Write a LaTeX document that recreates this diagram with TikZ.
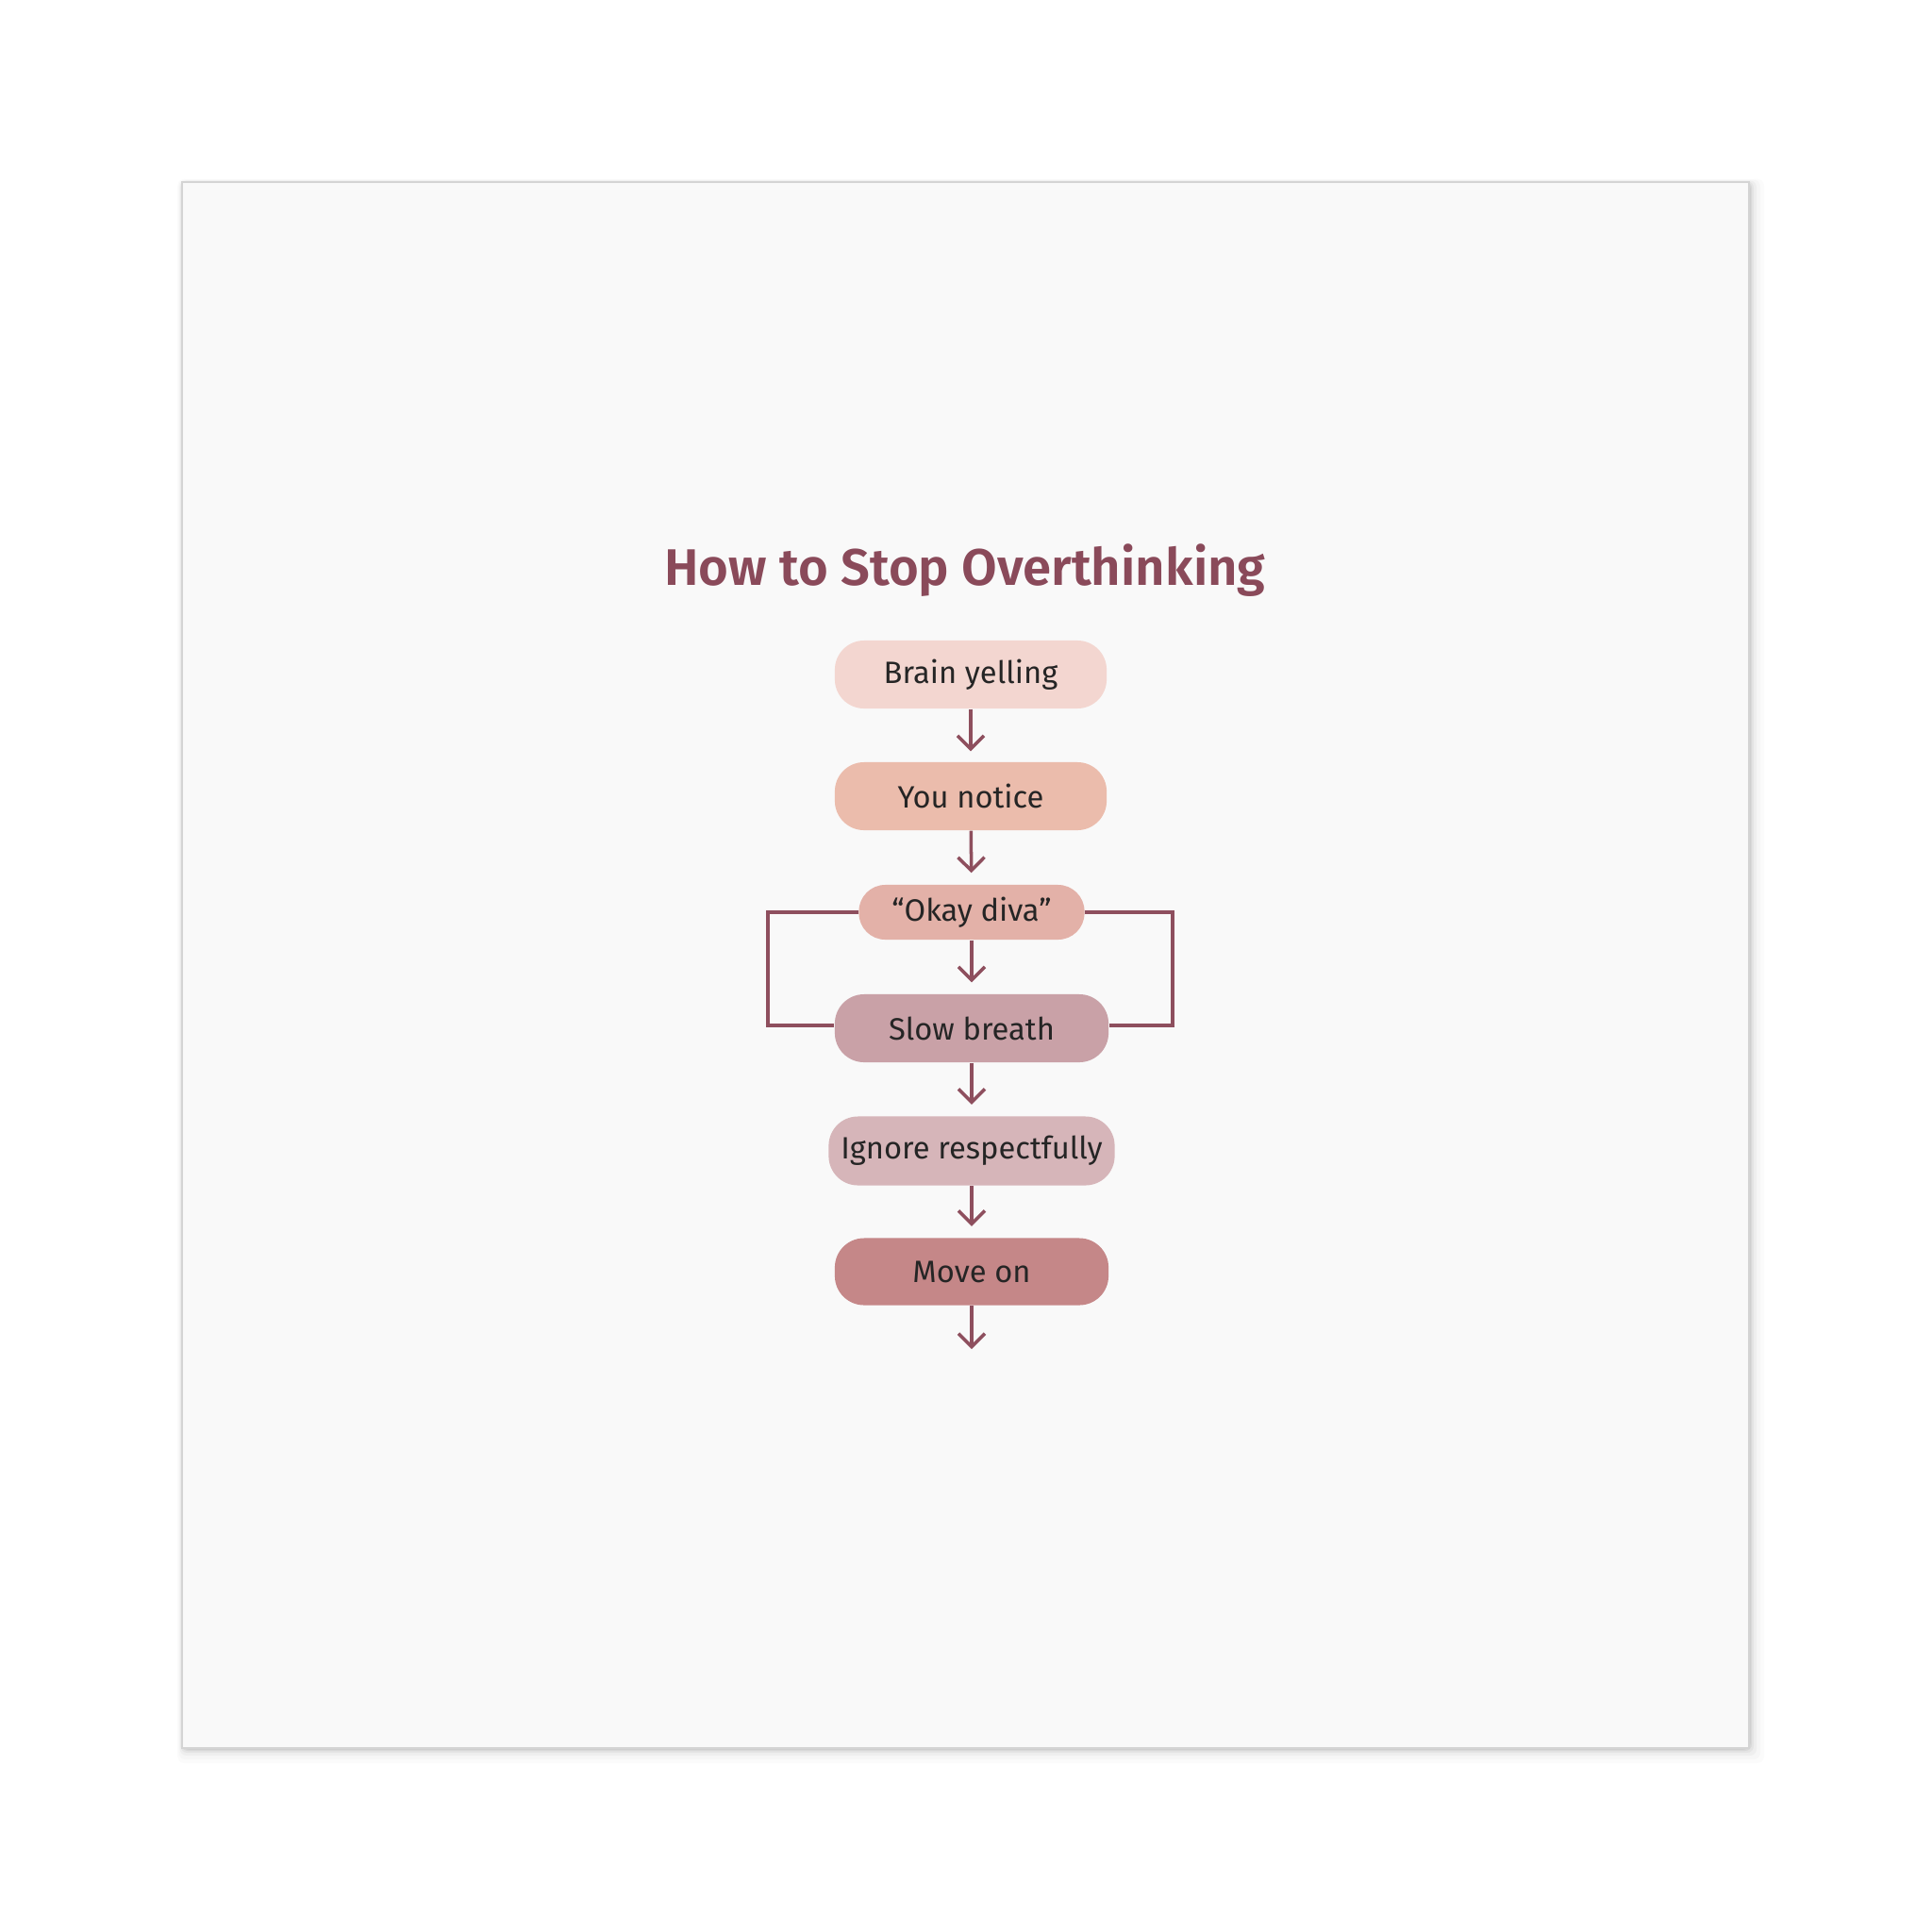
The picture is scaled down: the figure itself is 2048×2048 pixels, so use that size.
\documentclass[tikz,border=0pt]{standalone}
\usepackage{fontspec}
\setmainfont{Fira Sans}
\newfontfamily\titlefont{Fira Sans SemiBold}
\usetikzlibrary{arrows.meta}
\definecolor{canvasbg}{HTML}{F9F9F9}
\definecolor{canvasedge}{HTML}{D4D4D4}
\definecolor{titlecol}{HTML}{8A4A5A}
\definecolor{linecol}{HTML}{8E4F5E}
\definecolor{txtcol}{HTML}{252525}
\definecolor{cA}{HTML}{F3D6D0}
\definecolor{cB}{HTML}{EBBCAC}
\definecolor{cC}{HTML}{E3B1A8}
\definecolor{cD}{HTML}{C9A1A7}
\definecolor{cE}{HTML}{D6B5B9}
\definecolor{cF}{HTML}{C58788}
\tikzset{
  stepbox/.style={rounded corners=0.31cm, inner sep=0pt, text=txtcol,
    font=\fontsize{9.3pt}{11pt}\selectfont},
  arr/.style={draw=linecol, line width=1pt,
    -{Straight Barb[length=0.14cm,width=0.28cm,line width=1pt]}},
  loopline/.style={draw=linecol, line width=1pt},
}
\begin{document}
\begin{tikzpicture}[x=0.01cm,y=-0.01cm]
\useasboundingbox (0,0) rectangle (2048,2048);
\fill[white] (0,0) rectangle (2048,2048);
% soft shadow of the canvas
\foreach \o/\a in {16/0.015,12/0.02,8/0.03,5/0.04,3/0.05,1.5/0.06}{
  \fill[black,opacity=\a,rounded corners=2] (193-\o*0.3,193-\o*0.2) rectangle (1854+\o,1853+\o);
}
\fill[canvasbg] (193,193) rectangle (1854,1853);
\draw[canvasedge,line width=0.4pt] (193,193) rectangle (1854,1853);

\node[text=titlecol, anchor=base, font=\fontsize{15.5pt}{19pt}\titlefont] (title) at (1023,620) {How to Stop Overthinking};

\node[stepbox, fill=cA, minimum width=2.88cm, minimum height=0.72cm] (b1) at (1029,715) {Brain yelling};
\node[stepbox, fill=cB, minimum width=2.88cm, minimum height=0.72cm] (b2) at (1029,844) {You notice};
\node[stepbox, fill=cC, minimum width=2.39cm, minimum height=0.58cm, rounded corners=0.28cm] (b3) at (1030,967) {“Okay diva”};
\node[stepbox, fill=cD, minimum width=2.90cm, minimum height=0.72cm] (b4) at (1030,1090) {Slow breath};
\node[stepbox, fill=cE, minimum width=3.03cm, minimum height=0.73cm] (b5) at (1030,1220) {Ignore respectfully};
\node[stepbox, fill=cF, minimum width=2.90cm, minimum height=0.71cm] (b6) at (1030,1348) {Move on};
\coordinate (end) at (1030,1430);
\coordinate (L) at (814,1087);
\coordinate (R) at (1243,1087);

\draw[arr, shorten >=0.11cm] (b1) -- (b2);
\draw[arr, shorten >=0.12cm] (b2) -- (b3);
\draw[arr, shorten >=0.12cm] (b3) -- (b4);
\draw[arr, shorten >=0.12cm] (b4) -- (b5);
\draw[arr, shorten >=0.12cm] (b5) -- (b6);
\draw[arr] (b6.south) -- (end);

\draw[loopline] (b3.west) -| (L) -- (L -| b4.west);
\draw[loopline] (b3.east) -| (R) -- (R -| b4.east);
\end{tikzpicture}
\end{document}
